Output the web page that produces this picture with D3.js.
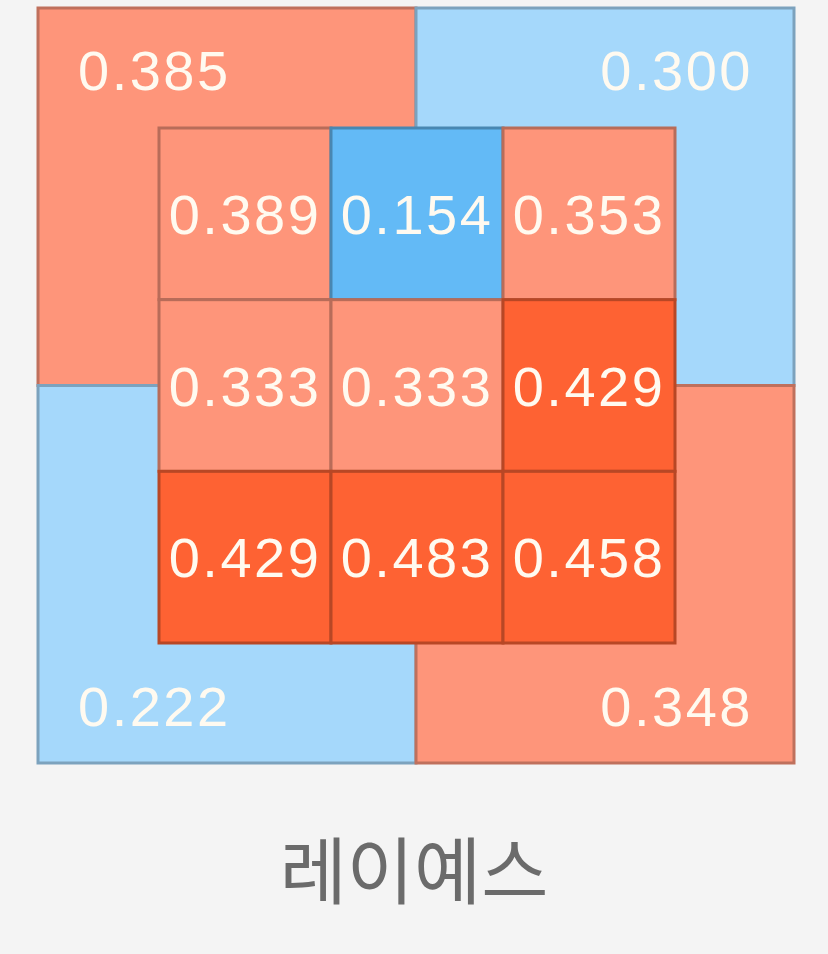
<!DOCTYPE html>
<html lang="ko">
<head>
    <meta charset="UTF-8">
    <title>레이예스 핫존</title>
    <script src="https://d3js.org/d3.v7.min.js"></script>
    <style>
        body { margin: 0; background: #f4f4f4; }
        svg { display: block; }
        .val {
            font-family: "Liberation Sans", "DejaVu Sans", sans-serif;
            font-size: 56px;
            letter-spacing: 2.5px;
            fill: #fffaf0;
        }
        .title {
            font-family: "Noto Sans CJK KR", sans-serif;
            font-size: 73px;
            fill: #6b6b6b;
        }
    </style>
</head>
<body>
<svg width="828" height="954"></svg>
<script>
    // 선수 이름
    const playerName = "레이예스";

    // 스트라이크존 안쪽 3x3 타율 (위 → 아래, 왼쪽 → 오른쪽)
    const innerRows = [0, 1, 2];
    const innerCols = [0, 1, 2];
    const innerValues = [
        [0.389, 0.154, 0.353],
        [0.333, 0.333, 0.429],
        [0.429, 0.483, 0.458]
    ];

    // 존 바깥 4분면: 왼쪽위, 오른쪽위, 왼쪽아래, 오른쪽아래
    const outerKeys = ["tl", "tr", "bl", "br"];
    const outerValues = [0.385, 0.300, 0.222, 0.348];

    const width = 828, height = 954;
    const svg = d3.select("svg");

    // 색상: 타율 구간별
    const color = d3.scaleThreshold()
        .domain([0.2, 0.301, 0.4])
        .range(["#63baf6", "#a5d8fb", "#fe957a", "#fe6233"]);

    // 바깥 사분면 스케일
    const ox = d3.scaleBand().domain([0, 1]).range([38, 794]);
    const oy = d3.scaleBand().domain([0, 1]).range([8, 763]);

    // 안쪽 격자 스케일
    const ix = d3.scaleBand().domain(innerCols).range([159, 675]);
    const iy = d3.scaleBand().domain(innerRows).range([128, 643]);

    const outer = outerKeys.map((k, i) => ({ k, col: i % 2, row: Math.floor(i / 2), v: outerValues[i] }));

    svg.append("g").selectAll("rect")
        .data(outer)
        .join("rect")
        .attr("x", d => ox(d.col))
        .attr("y", d => oy(d.row))
        .attr("width", ox.bandwidth())
        .attr("height", oy.bandwidth())
        .attr("fill", d => color(d.v))
        .attr("stroke", d => d3.color(color(d.v)).darker(0.8))
        .attr("stroke-width", 3);

    // 바깥 라벨: 모서리 쪽에 배치
    svg.append("g").selectAll("text")
        .data(outer)
        .join("text")
        .attr("class", "val")
        .attr("x", d => d.col === 0 ? ox(0) + 40 : ox(1) + ox.bandwidth() - 41)
        .attr("y", d => d.row === 0 ? oy(0) + 82 : oy(1) + oy.bandwidth() - 37)
        .attr("text-anchor", d => d.col === 0 ? "start" : "end")
        .text(d => d.v.toFixed(3));

    // 안쪽 셀
    const cells = [];
    innerRows.forEach(r => innerCols.forEach(c => cells.push({ r, c, v: innerValues[r][c] })));

    svg.append("g").selectAll("rect")
        .data(cells)
        .join("rect")
        .attr("x", d => ix(d.c))
        .attr("y", d => iy(d.r))
        .attr("width", ix.bandwidth())
        .attr("height", iy.bandwidth())
        .attr("fill", d => color(d.v))
        .attr("stroke", d => d3.color(color(d.v)).darker(0.9))
        .attr("stroke-width", 3);

    svg.append("g").selectAll("text")
        .data(cells)
        .join("text")
        .attr("class", "val")
        .attr("x", d => ix(d.c) + ix.bandwidth() / 2)
        .attr("y", d => iy(d.r) + iy.bandwidth() / 2 + 20)
        .attr("text-anchor", "middle")
        .text(d => d.v.toFixed(3));

    // 선수 이름
    svg.append("text")
        .attr("class", "title")
        .attr("x", width / 2)
        .attr("y", 866)
        .attr("text-anchor", "middle")
        .attr("dominant-baseline", "central")
        .text(playerName);
</script>
</body>
</html>
